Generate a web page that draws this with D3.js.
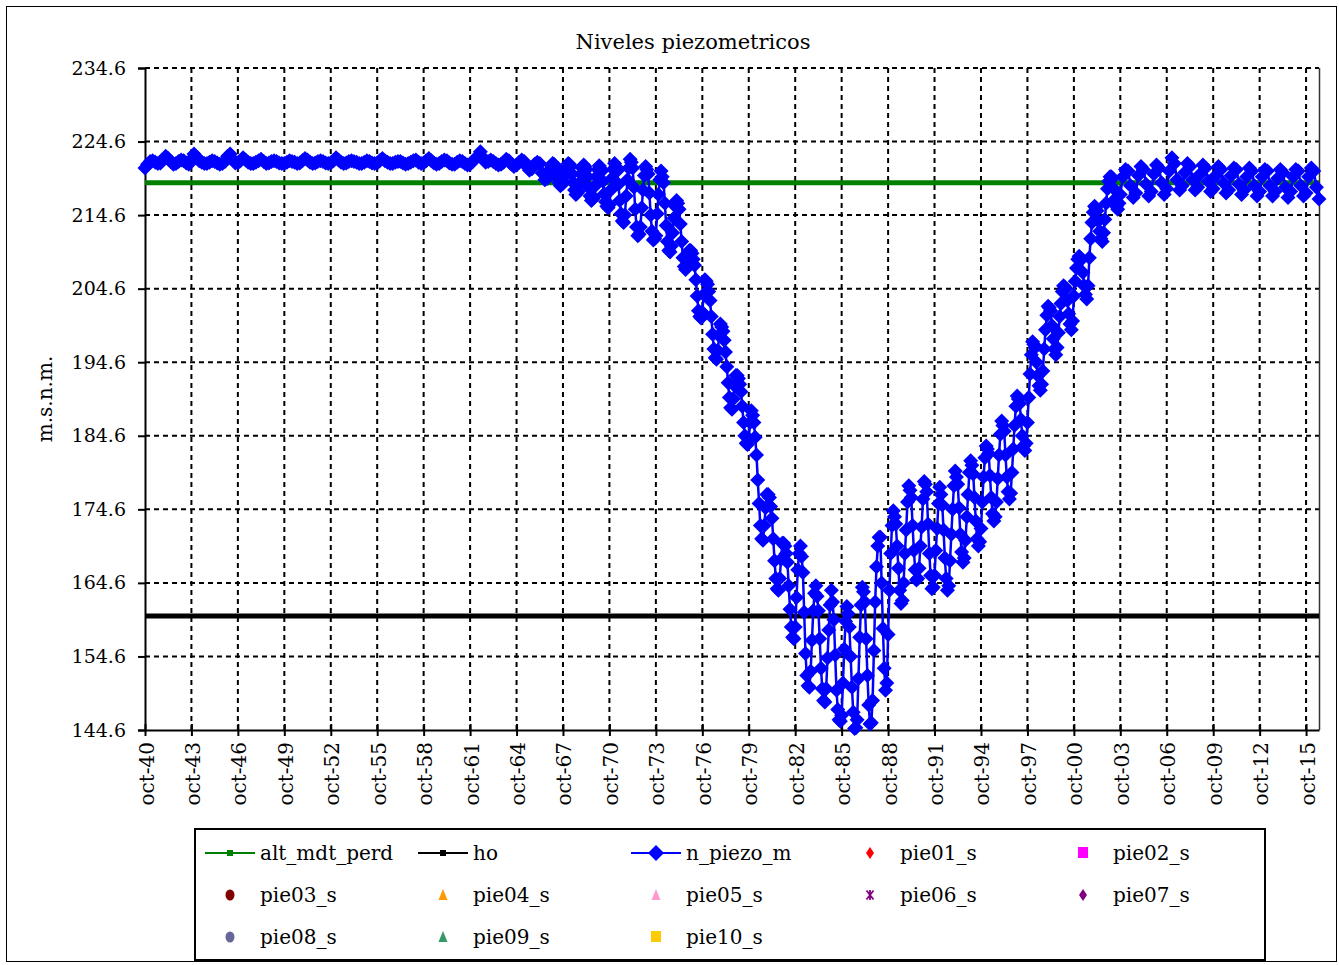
<!DOCTYPE html>
<html><head><meta charset="utf-8">
<script src="https://cdn.jsdelivr.net/npm/d3@7"></script>
<style>
body{margin:0;background:#fff}
svg{display:block}
text{font-family:'DejaVu Serif',serif;fill:#000}
</style>
</head><body>
<svg id="chart" width="1339" height="965"></svg>
<script>
// ---------- data ----------
const chartTitle = "Niveles piezometricos";
const yAxisTitle = "m.s.n.m.";
const yTickValues = [144.6, 154.6, 164.6, 174.6, 184.6, 194.6, 204.6, 214.6, 224.6, 234.6];
const xTickYears = [1940,1943,1946,1949,1952,1955,1958,1961,1964,1967,1970,1973,1976,1979,1982,1985,1988,1991,1994,1997,2000,2003,2006,2009,2012,2015];
const xTickLabels = ["oct-40","oct-43","oct-46","oct-49","oct-52","oct-55","oct-58","oct-61","oct-64","oct-67","oct-70","oct-73","oct-76","oct-79","oct-82","oct-85","oct-88","oct-91","oct-94","oct-97","oct-00","oct-03","oct-06","oct-09","oct-12","oct-15"];
const alt_mdt_perd = 219.0;
const ho = 160.1;
// hydrological years (Oct..Sep). Rows of 6 = Oct, Dec, Feb, Apr, Jun, Aug; rows of 12 = monthly Oct..Sep
const bimonthlyMonths = [9, 11, 1, 3, 5, 7];
const monthlyMonths = [9, 10, 11, 0, 1, 2, 3, 4, 5, 6, 7, 8];
const piezoYears = [1940,1941,1942,1943,1944,1945,1946,1947,1948,1949,1950,1951,1952,1953,1954,1955,1956,1957,1958,1959,1960,1961,1962,1963,1964,1965,1966,1967,1968,1969,1970,1971,1972,1973,1974,1975,1976,1977,1978,1979,1980,1981,1982,1983,1984,1985,1986,1987,1988,1989,1990,1991,1992,1993,1994,1995,1996,1997,1998,1999,2000,2001,2002,2003,2004,2005,2006,2007,2008,2009,2010,2011,2012,2013,2014,2015];
const n_piezo_m = [
[221.0,221.5,221.9,222.0,221.8,221.6],
[221.7,222.2,222.6,222.3,221.9,221.5],
[221.6,221.9,222.1,222.0,221.7,221.5],
[222.2,222.9,222.5,222.0,221.8,221.6],
[221.6,221.8,222.0,221.9,221.7,221.5],
[221.6,221.9,222.6,222.9,222.2,221.7],
[221.7,222.0,222.4,222.1,221.8,221.6],
[221.6,221.8,222.0,222.2,221.9,221.6],
[221.7,221.9,222.0,221.9,221.7,221.6],
[221.6,221.8,222.0,221.9,221.8,221.6],
[221.7,222.0,222.3,222.1,221.8,221.6],
[221.7,221.9,222.0,221.9,221.7,221.6],
[221.7,222.0,222.4,222.1,221.8,221.6],
[221.7,221.9,222.0,221.9,221.8,221.6],
[221.6,221.8,222.0,221.9,221.7,221.6],
[221.7,222.0,222.3,222.0,221.8,221.6],
[221.6,221.8,221.9,221.9,221.7,221.5],
[221.6,221.8,222.0,222.1,221.8,221.6],
[221.7,222.0,222.3,222.0,221.7,221.5],
[221.6,221.9,222.1,222.0,221.7,221.5],
[221.5,221.8,222.0,221.9,221.6,221.4],
[221.5,221.9,222.3,222.6,223.2,222.4],
[221.8,221.9,222.1,221.9,221.6,221.4],
[221.5,221.8,222.2,222.0,221.5,221.2],
[221.4,221.8,222.1,221.9,221.2,220.7],
[220.9,221.5,221.8,221.6,220.3,219.4],
[219.6,220.2,220.8,221.3,221.6,221.5,221.3,220.6,219.6,219.0,218.6,218.8],
[218.9,219.8,220.6,221.2,221.6,221.5,221.2,220.2,219.0,218.0,217.4,217.6],
[217.8,219.0,220.2,221.0,221.4,221.2,220.8,219.8,218.4,217.2,216.6,216.8],
[217.0,218.6,219.8,220.8,221.3,221.0,220.6,219.2,217.5,216.4,215.8,215.6],
[216.0,218.0,219.6,220.8,221.6,221.2,220.6,218.8,216.6,214.8,213.8,213.6],
[214.6,217.2,219.4,221.0,222.2,221.8,221.0,218.4,215.4,213.0,211.8,212.0],
[213.0,215.6,218.0,220.0,221.2,220.8,220.2,217.6,214.6,212.4,211.2,211.4],
[211.8,214.8,217.4,219.4,220.6,219.8,219.0,216.2,213.2,211.0,209.8,209.6],
[210.4,212.2,214.2,215.8,216.6,216.2,215.4,213.4,211.0,208.8,207.6,207.2],
[207.8,208.8,209.8,209.8,209.4,208.6,207.8,205.8,203.6,201.6,200.8,200.6],
[201.4,203.8,205.8,205.6,205.2,204.2,203.0,200.8,198.4,196.4,195.2,195.0],
[196.2,198.2,199.8,199.4,198.8,197.6,196.0,194.0,191.8,189.8,188.4,188.2],
[189.6,191.4,192.8,192.8,192.4,191.6,190.6,188.6,186.4,184.6,183.6,183.4],
[184.2,186.4,188.0,187.4,186.4,184.4,182.0,178.6,175.4,172.4,170.6,170.4],
[172.4,174.8,176.6,176.6,176.2,175.0,173.4,170.6,167.6,165.2,163.8,163.6],
[165.2,167.8,170.0,170.0,169.6,168.6,167.4,164.2,161.0,158.6,157.2,157.0],
[158.6,162.6,166.4,168.6,169.6,168.2,166.0,160.6,155.0,152.0,150.6,150.4],
[152.6,156.8,160.8,163.2,164.2,162.8,160.8,157.0,153.0,150.2,148.6,148.4],
[150.2,154.4,158.2,161.6,163.6,162.0,159.6,154.8,150.0,147.4,146.0,145.8],
[146.6,151.0,155.6,159.4,161.4,160.4,158.6,154.6,150.4,147.0,144.8,144.9],
[146.0,151.6,157.2,161.6,164.0,163.4,162.0,157.0,152.0,148.0,145.4,145.6],
[148.6,155.4,162.0,166.8,169.6,170.8,170.8,164.6,158.4,153.0,150.0,151.0],
[157.6,163.6,168.6,172.4,174.4,173.6,172.6,169.6,166.6,163.6,161.8,162.2],
[164.6,168.6,171.8,175.6,177.8,177.2,176.2,172.4,169.0,166.4,165.0,165.2],
[166.6,169.6,172.2,176.0,178.4,178.0,177.0,172.6,168.6,165.6,163.8,164.0],
[165.6,169.0,172.0,175.4,177.6,176.6,175.2,171.8,168.0,165.2,163.6,164.2],
[167.6,171.2,174.6,177.8,179.8,179.0,178.0,174.8,171.2,168.8,167.4,168.0],
[170.4,173.6,176.6,179.6,181.2,180.6,179.4,176.2,173.0,170.6,169.6,170.2],
[172.0,175.6,179.0,181.6,183.2,182.8,182.2,179.2,176.2,174.0,173.0,173.6],
[175.6,178.8,182.0,184.8,186.6,186.0,185.2,182.0,179.0,177.0,176.0,176.8],
[179.6,182.8,186.0,188.6,190.0,189.6,189.0,186.8,184.6,183.2,182.6,183.6],
[186.4,189.8,193.0,195.6,197.4,197.0,196.6,194.6,192.8,191.4,190.8,191.6],
[193.4,196.4,199.0,201.0,202.2,202.0,201.6,199.6,197.8,196.4,195.6,196.6],
[198.6,200.8,202.6,204.2,205.0,204.8,204.6,203.0,201.2,199.8,199.0,200.2],
[203.6,205.6,207.4,208.6,209.0,208.8,208.6,206.8,205.0,203.8,203.2,205.0],
[208.8,211.4,213.6,215.0,215.8,215.6,215.2,213.8,212.4,211.4,211.0,212.2],
[214.0,216.2,218.2,219.2,219.8,219.8,219.6,218.2,216.8,215.8,215.4,216.2],
[217.4,219.8,220.8,220.6,218.6,217.0],
[217.6,220.0,221.2,220.8,218.8,217.2],
[217.8,220.2,221.4,221.0,219.0,217.4],
[218.2,220.6,222.4,221.6,219.4,218.0],
[218.6,220.4,221.6,221.2,219.4,218.0],
[218.4,220.2,221.4,221.0,219.2,217.8],
[218.2,220.0,221.2,220.8,219.0,217.6],
[218.0,220.0,221.0,220.8,218.8,217.4],
[218.0,219.8,221.0,220.6,218.6,217.2],
[217.8,219.8,220.8,220.6,218.6,217.2],
[217.8,219.6,220.8,220.4,218.4,217.0],
[217.8,219.8,220.8,220.6,218.6,217.2],
[217.6,219.8,221.0,220.6,218.4,216.8]
];
const legendNames = ["alt_mdt_perd","ho","n_piezo_m","pie01_s","pie02_s","pie03_s","pie04_s","pie05_s","pie06_s","pie07_s","pie08_s","pie09_s","pie10_s"];
const legendColors = ["#008000","#000000","#0000FF","#FF0000","#FF00FF","#800000","#FF9900","#FF99CC","#800080","#800080","#666699","#339966","#FFCC00"];
const legendSymbols = ["lineSquare","lineSquare","lineDiamond","diamond","square","circle","triangle","triangle","star","diamond","circle","triangle","square"];

// ---------- layout ----------
const plot = {left: 145, right: 1319, top: 68, bottom: 730};
const svg = d3.select("#chart");

// flatten series
const piezo = [];
piezoYears.forEach((yr, i) => {
  const row = n_piezo_m[i];
  const months = row.length === 12 ? monthlyMonths : bimonthlyMonths;
  row.forEach((v, j) => {
    const m = months[j];
    const yy = m >= 9 ? yr : yr + 1;
    piezo.push({date: new Date(yy, m, 1), value: v});
  });
});

const x = d3.scaleTime()
  .domain([new Date(1940, 9, 1), piezo[piezo.length - 1].date])
  .range([plot.left, plot.right]);
const y = d3.scaleLinear()
  .domain([yTickValues[0], yTickValues[yTickValues.length - 1]])
  .range([plot.bottom, plot.top]);
const xTickDates = xTickYears.map(yr => new Date(yr, 9, 1));

// outer frame
svg.append("rect").attr("x", 6.5).attr("y", 6.5).attr("width", 1330).attr("height", 955)
  .attr("fill", "#fff").attr("stroke", "#000").attr("stroke-width", 1);

// title
svg.append("text").attr("x", 693).attr("y", 49).attr("text-anchor", "middle")
  .style("font-size", "21px").text(chartTitle);

// gridlines
const grid = svg.append("g");
grid.selectAll("line.h").data(yTickValues.slice(1)).join("line")
  .attr("x1", plot.left).attr("x2", plot.right)
  .attr("y1", d => y(d)).attr("y2", d => y(d))
  .attr("stroke", "#000").attr("stroke-width", 2).attr("stroke-dasharray", "5,4");
grid.selectAll("line.v").data(xTickDates.slice(1)).join("line")
  .attr("x1", d => x(d)).attr("x2", d => x(d))
  .attr("y1", plot.top).attr("y2", plot.bottom)
  .attr("stroke", "#000").attr("stroke-width", 2).attr("stroke-dasharray", "5,4");

// right plot border
svg.append("line").attr("x1", plot.right + 0.5).attr("x2", plot.right + 0.5)
  .attr("y1", plot.top).attr("y2", plot.bottom).attr("stroke", "#333").attr("stroke-width", 1.5);

// axes
const yAxis = d3.axisLeft(y).tickValues(yTickValues).tickFormat(d3.format(".1f")).tickSize(7).tickPadding(12);
const gy = svg.append("g").attr("transform", `translate(${plot.left},0)`).call(yAxis);
gy.select(".domain").attr("stroke", "#000").attr("stroke-width", 2);
gy.selectAll(".tick line").attr("stroke", "#000").attr("stroke-width", 2);
gy.selectAll(".tick text").style("font-size", "19px").style("font-family", "'DejaVu Serif',serif");

const xAxis = d3.axisBottom(x).tickValues(xTickDates)
  .tickFormat((d, i) => xTickLabels[i]).tickSize(6).tickSizeOuter(0);
const gx = svg.append("g").attr("transform", `translate(0,${plot.bottom})`).call(xAxis);
gx.select(".domain").attr("stroke", "#000").attr("stroke-width", 2);
gx.selectAll(".tick line").attr("stroke", "#000").attr("stroke-width", 2).attr("y1", -6);
gx.selectAll(".tick text")
  .style("font-size", "20px").style("font-family", "'DejaVu Serif',serif")
  .attr("text-anchor", "end").attr("dy", "0.35em")
  .attr("transform", "translate(1,12) rotate(-90)").attr("x", 0).attr("y", 0);

// y axis title
svg.append("text").attr("transform", `translate(52,${(plot.top + plot.bottom) / 2}) rotate(-90)`)
  .attr("text-anchor", "middle").style("font-size", "20px").text(yAxisTitle);

// reference lines
const xDom = x.domain();
const flat = v => xDom.map(d => ({date: d, value: v}));
const lineGen = d3.line().x(d => x(d.date)).y(d => y(d.value));
svg.append("path").datum(flat(alt_mdt_perd)).attr("d", lineGen)
  .attr("fill", "none").attr("stroke", "#008000").attr("stroke-width", 5);
svg.append("path").datum(flat(ho)).attr("d", lineGen)
  .attr("fill", "none").attr("stroke", "#000").attr("stroke-width", 5);

// piezometric series
const diamond = r => `M0,${-r}L${r},0L0,${r}L${-r},0Z`;
svg.append("path").datum(piezo).attr("d", lineGen)
  .attr("fill", "none").attr("stroke", "#0000FF").attr("stroke-width", 2.5);
svg.append("g").selectAll("path").data(piezo).join("path")
  .attr("transform", d => `translate(${x(d.date)},${y(d.value)})`)
  .attr("d", diamond(7.5)).attr("fill", "#0000FF");

// legend
svg.append("rect").attr("x", 195).attr("y", 829).attr("width", 1070).attr("height", 131)
  .attr("fill", "#fff").attr("stroke", "#000").attr("stroke-width", 2);
const colX = [205, 418, 631, 845, 1058];
const rowY = [853, 895, 937];
legendNames.forEach((name, i) => {
  const cx = colX[i % 5], cy = rowY[Math.floor(i / 5)];
  const g = svg.append("g").attr("transform", `translate(${cx},${cy})`);
  const col = legendColors[i], sym = legendSymbols[i];
  if (sym.startsWith("line")) {
    g.append("line").attr("x1", 0).attr("x2", 50).attr("y1", 0).attr("y2", 0)
      .attr("stroke", col).attr("stroke-width", 2);
    if (sym === "lineSquare") g.append("rect").attr("x", 22).attr("y", -3).attr("width", 6).attr("height", 6).attr("fill", col);
    else g.append("path").attr("transform", "translate(25,0)").attr("d", diamond(8)).attr("fill", col);
  } else {
    const m = g.append("g").attr("transform", "translate(25,0)");
    if (sym === "diamond") m.append("path").attr("d", `M0,-6L4,0L0,6L-4,0Z`).attr("fill", col);
    else if (sym === "square") m.append("rect").attr("x", -5).attr("y", -6).attr("width", 10).attr("height", 11).attr("fill", col);
    else if (sym === "circle") m.append("ellipse").attr("rx", 4.5).attr("ry", 5.5).attr("fill", col);
    else if (sym === "triangle") m.append("path").attr("d", "M0,-6L4.5,5L-4.5,5Z").attr("fill", col);
    else if (sym === "star") {
      m.append("path").attr("d", "M-3.5,-4.5L3.5,4.5M3.5,-4.5L-3.5,4.5M0,-5L0,5")
        .attr("stroke", col).attr("stroke-width", 1.8).attr("fill", "none");
    }
  }
  g.append("text").attr("x", 55).attr("y", 0).attr("dy", "0.35em")
    .style("font-size", "20px").text(name);
});
</script>
</body></html>
